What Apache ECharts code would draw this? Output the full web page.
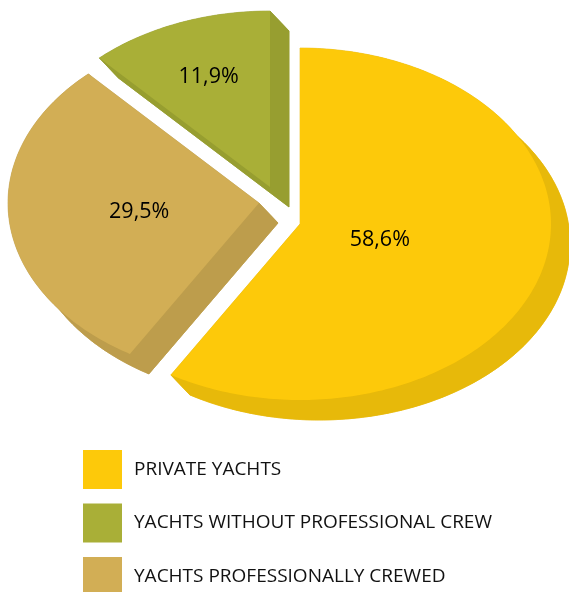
<!DOCTYPE html>
<html>
<head>
<meta charset="utf-8">
<script src="https://cdn.jsdelivr.net/npm/echarts@6/dist/echarts.min.js"></script>
<style>
  html, body { margin: 0; padding: 0; background: #ffffff; }
  #chart { width: 569px; height: 592px; }
</style>
</head>
<body>
<div id="chart"></div>
<script>
// Fleet breakdown, slices listed clockwise from 12 o'clock
const categories = ['PRIVATE YACHTS', 'YACHTS PROFESSIONALLY CREWED', 'YACHTS WITHOUT PROFESSIONAL CREW'];
const shares = [58.6, 29.5, 11.9];
const legendOrder = [0, 2, 1];

// Styling for each slice (same order as categories)
const topColors = ['#FDC90A', '#D2AE55', '#A9AF37'];
const sideColors = ['#E7B90A', '#BD9D4C', '#979E30'];
const explode = [[0, 0], [-41, -21], [-30, -37]];
const labelFrac = [0.33, 0.48, 0.67];

// Tilted-disc geometry
const center = [300, 224];
const rx = 251, ry = 176;
const depth = [19, 20];

const total = shares.reduce((a, b) => a + b, 0);

function fmt(v) { return v.toFixed(1).replace('.', ',') + '%'; }

function renderSlice(params, api) {
  const i = params.seriesIndex;
  let before = 0;
  for (let k = 0; k < i; k++) before += shares[k];
  const a0 = before / total * Math.PI * 2;
  const a1 = (before + api.value(0)) / total * Math.PI * 2;
  const ax = center[0] + explode[i][0];
  const ay = center[1] + explode[i][1];
  const pt = (t) => [ax + rx * Math.sin(t), ay - ry * Math.cos(t)];
  const sh = (p) => [p[0] + depth[0], p[1] + depth[1]];

  const steps = Math.max(8, Math.ceil((a1 - a0) / (Math.PI / 180)));
  const arc = [];
  for (let s = 0; s <= steps; s++) arc.push(pt(a0 + (a1 - a0) * s / steps));
  const apex = [ax, ay];
  const top = [apex].concat(arc);
  const shifted = top.map(sh);
  const band = arc.concat(arc.slice().reverse().map(sh));
  const q0 = [apex, arc[0], sh(arc[0]), sh(apex)];
  const q1 = [apex, arc[arc.length - 1], sh(arc[arc.length - 1]), sh(apex)];

  const side = { fill: sideColors[i], stroke: sideColors[i], lineWidth: 0.6 };
  const mid = (a0 + a1) / 2;
  const lx = ax + labelFrac[i] * rx * Math.sin(mid);
  const ly = ay - labelFrac[i] * ry * Math.cos(mid);

  return {
    type: 'group',
    children: [
      { type: 'polygon', shape: { points: shifted }, style: side },
      { type: 'polygon', shape: { points: band }, style: side },
      { type: 'polygon', shape: { points: q0 }, style: side },
      { type: 'polygon', shape: { points: q1 }, style: side },
      { type: 'polygon', shape: { points: top }, style: { fill: topColors[i] } },
      {
        type: 'text',
        style: {
          text: fmt(api.value(0)), x: lx, y: ly,
          align: 'center', verticalAlign: 'middle',
          fontSize: 21.5, fontFamily: 'Open Sans', fill: '#000000'
        }
      }
    ]
  };
}

const chart = echarts.init(document.getElementById('chart'), null, { renderer: 'canvas' });
chart.setOption({
  animation: false,
  backgroundColor: '#ffffff',
  legend: {
    orient: 'vertical',
    left: 83,
    top: 450,
    height: 200,
    padding: 0,
    itemWidth: 39,
    itemHeight: 39,
    itemGap: 14.5,
    icon: 'rect',
    selectedMode: false,
    data: legendOrder.map(k => categories[k]),
    textStyle: { fontSize: 19, fontFamily: 'Open Sans', color: '#111111', padding: [0, 0, 0, 7] }
  },
  series: categories.map((name, i) => ({
    type: 'custom',
    name: name,
    coordinateSystem: 'none',
    itemStyle: { color: topColors[i] },
    renderItem: renderSlice,
    data: [[shares[i]]]
  }))
});
</script>
</body>
</html>
